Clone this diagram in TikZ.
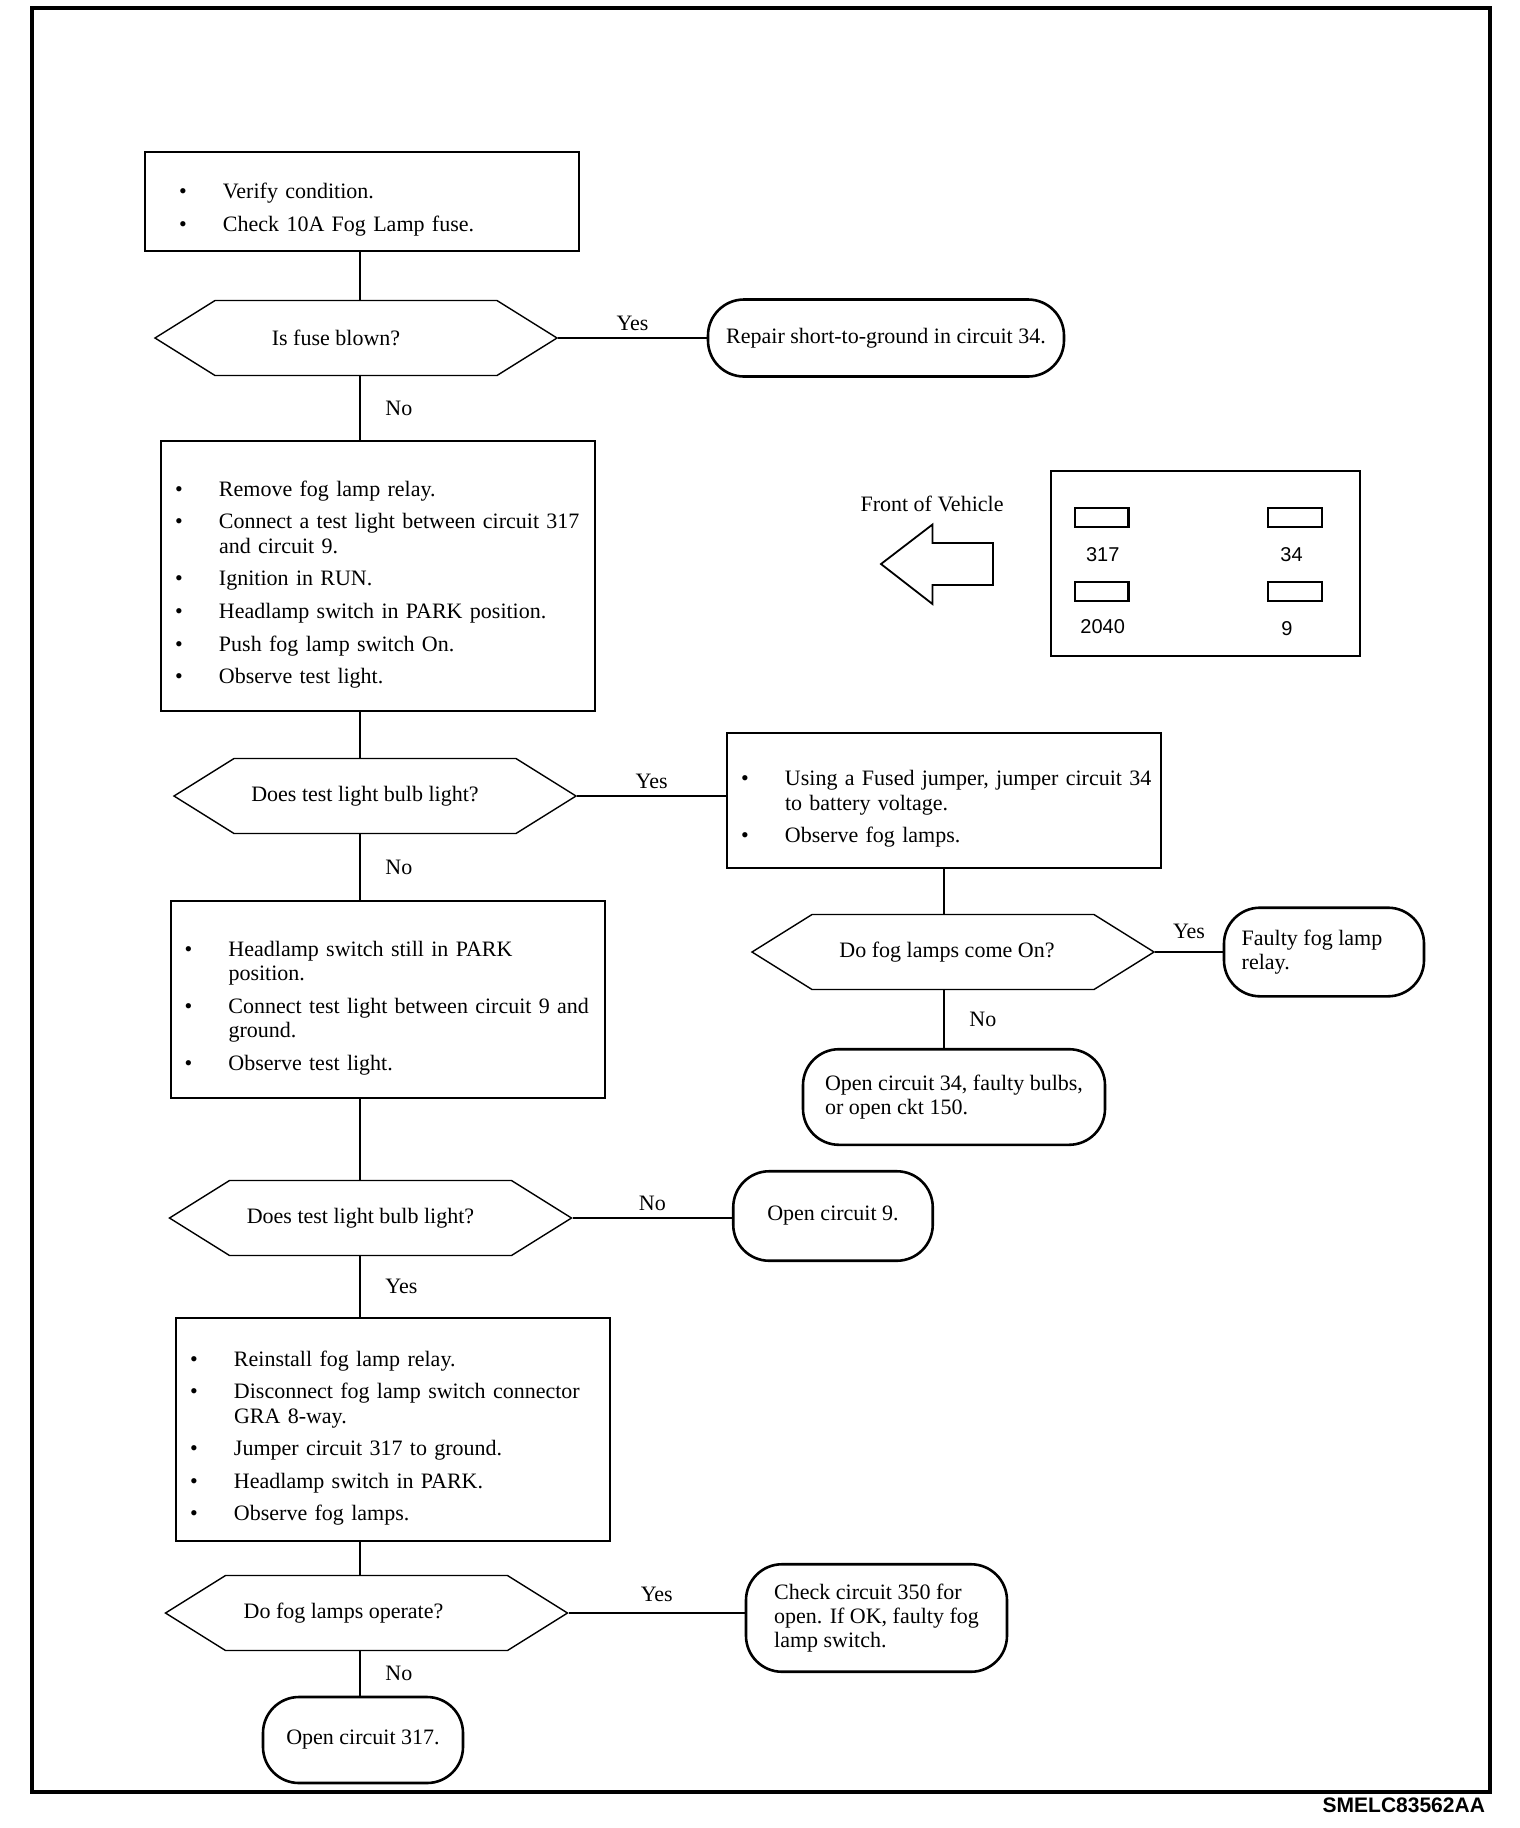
\documentclass[tikz,border=0pt]{standalone}
\usepackage{fontspec}
\setmainfont{Liberation Serif}
\newfontfamily\pinfont{Liberation Sans}
\usetikzlibrary{shapes.symbols,positioning}

% one bulleted item inside a step box
\newcommand{\bul}[1]{\par\noindent\hangindent=22pt\hangafter=1%
  \makebox[22pt][l]{\textbullet}{\let\\\newline #1}}

\tikzset{
  stepbox/.style={draw, line width=1pt, align=left, inner ysep=2pt,
    font=\fontsize{11}{12.2}\selectfont\setlength{\parskip}{4.1pt}},
  decision/.style={signal, signal to=west and east, signal pointer angle=64,
    draw, line width=0.7pt, minimum width=201pt, minimum height=37.5pt,
    font=\fontsize{11}{13}\selectfont},
  endbox/.style={draw, line width=1.3pt, rounded corners=18pt, align=left,
    font=\fontsize{11}{12.2}\selectfont},
  link/.style={line width=0.8pt},
  answer/.style={font=\fontsize{11}{13}\selectfont},
  pin/.style={draw, line width=1.2pt, minimum width=26.8pt,
    minimum height=9.5pt, inner sep=0pt},
  pinlabel/.style={font=\pinfont\fontsize{10}{12}\selectfont}
}

\begin{document}
\begin{tikzpicture}[x=0.5pt,y=-0.5pt]
  \useasboundingbox (0,0) rectangle (1520,1828);
  \draw[line width=1.6pt] (32,8) rectangle (1490,1792);
  \coordinate (spine) at (360,0);

  % main column
  \node[stepbox, text width=183pt, inner xsep=17pt, minimum height=49.5pt]
    (b1) at (362,201) {\bul{Verify condition.}\bul{Check 10A Fog Lamp fuse.}};
  \node[decision] (d1) at (356,338) {Is fuse blown?\hspace*{20pt}};
  \node[endbox, minimum width=178pt, minimum height=38.5pt]
    (t1) at (886,338) {Repair short-to-ground in circuit 34.};

  \node[stepbox, text width=203pt, inner xsep=7pt, minimum height=135pt]
    (b2) at (378,576) {\bul{Remove fog lamp relay.}
      \bul{Connect a test light between circuit 317\\and circuit 9.}
      \bul{Ignition in RUN.}
      \bul{Headlamp switch in PARK position.}
      \bul{Push fog lamp switch On.}
      \bul{Observe test light.}};
  \node[decision] (d2) at (375,796) {Does test light bulb light?\hspace*{10pt}};

  \node[stepbox, text width=203pt, inner xsep=7pt, minimum height=67.5pt]
    (b3) at (944,800.5) {\bul{\mbox{Using a Fused jumper, jumper circuit 34}\\to battery voltage.}
      \bul{Observe fog lamps.}};
  \node[decision] (d3) at (953,952) {Do fog lamps come On?\hspace*{6pt}};
  \node[endbox, minimum width=100pt, minimum height=44.3pt]
    (t2) at (1324,952) {Faulty fog lamp\hspace*{12pt}\\relay.};
  \node[endbox, minimum width=151pt, minimum height=47.8pt]
    (t3) at (954,1097) {Open circuit 34, faulty bulbs,\\or open ckt 150.};

  \node[stepbox, text width=203pt, inner xsep=7pt, minimum height=98.5pt]
    (b4) at (387.5,999.5) {\bul{Headlamp switch still in PARK\\position.}
      \bul{Connect test light between circuit 9 and\\ground.}
      \bul{Observe test light.}};
  \node[decision] (d4) at (370.5,1218) {Does test light bulb light?\hspace*{10pt}};
  \node[endbox, minimum width=99.75pt, minimum height=44.75pt]
    (t4) at (833,1216) {Open circuit 9.};

  \node[stepbox, text width=203pt, inner xsep=7pt, minimum height=111.5pt]
    (b5) at (393,1429.5) {\bul{Reinstall fog lamp relay.}
      \bul{Disconnect fog lamp switch connector\\GRA 8-way.}
      \bul{Jumper circuit 317 to ground.}
      \bul{Headlamp switch in PARK.}
      \bul{Observe fog lamps.}};
  \node[decision] (d5) at (366.5,1613) {Do fog lamps operate?\hspace*{23pt}};
  \node[endbox, minimum width=130.5pt, minimum height=53.75pt]
    (t5) at (876.5,1618) {Check circuit 350 for\\open. If OK, faulty fog\\lamp switch.};
  \node[endbox, minimum width=100pt, minimum height=43pt]
    (t6) at (363,1740) {Open circuit 317.};

  % relay connector view
  \node[answer] (front) at (932,503.5) {Front of Vehicle};
  \draw[line width=0.9pt] (881,564) -- (932.5,524.5) -- (932.5,543) -- (993,543)
    -- (993,585) -- (932.5,585) -- (932.5,604) -- cycle;
  \node[draw, line width=1pt, minimum width=154.5pt, minimum height=92.5pt]
    (relay) at (1205.5,563.5) {};
  \node[pin] (p317) at (1101.5,517.5) {};
  \node[pin] (p34) at (1295,517.5) {};
  \node[pin] (p2040) at (1101.5,591.5) {};
  \node[pin] (p9) at (1295,591.5) {};
  \node[pinlabel] (l317) at (1102.7,555) {317};
  \node[pinlabel] (l34) at (1291.5,555) {34};
  \node[pinlabel] (l2040) at (1102.7,627) {2040};
  \node[pinlabel] (l9) at (1287,629) {9};

  \node[anchor=east, font=\pinfont\bfseries\fontsize{10.5}{12}\selectfont]
    (code) at (1492,1805) {SMELC83562AA};

  % connectors
  \draw[link] (b1.south -| spine) -- (d1.north -| spine);
  \draw[link] (d1.east) -- node[answer, above] {Yes} (t1.west);
  \draw[link] (d1.south -| spine) -- node[answer, right=9pt] {No} (b2.north -| spine);
  \draw[link] (b2.south -| spine) -- (d2.north -| spine);
  \draw[link] (d2.east) -- node[answer, above] {Yes} (d2.east -| b3.west);
  \draw[link] (b3.south) -- (b3.south |- d3.north);
  \draw[link] (d3.east) -- node[answer, above=3pt] {Yes} (t2.west);
  \draw[link] (d3.south -| b3.south) -- node[answer, right=9pt] {No} (t3.north -| b3.south);
  \draw[link] (d2.south -| spine) -- node[answer, right=9pt] {No} (b4.north -| spine);
  \draw[link] (b4.south -| spine) -- (d4.north -| spine);
  \draw[link] (d4.east) -- node[answer, above] {No} (d4.east -| t4.west);
  \draw[link] (d4.south -| spine) -- node[answer, right=9pt] {Yes} (b5.north -| spine);
  \draw[link] (b5.south -| spine) -- (d5.north -| spine);
  \draw[link] (d5.east) -- node[answer, above=2pt] {Yes} (d5.east -| t5.west);
  \draw[link] (d5.south -| spine) -- node[answer, right=9pt] {No} (t6.north -| spine);
\end{tikzpicture}
\end{document}
